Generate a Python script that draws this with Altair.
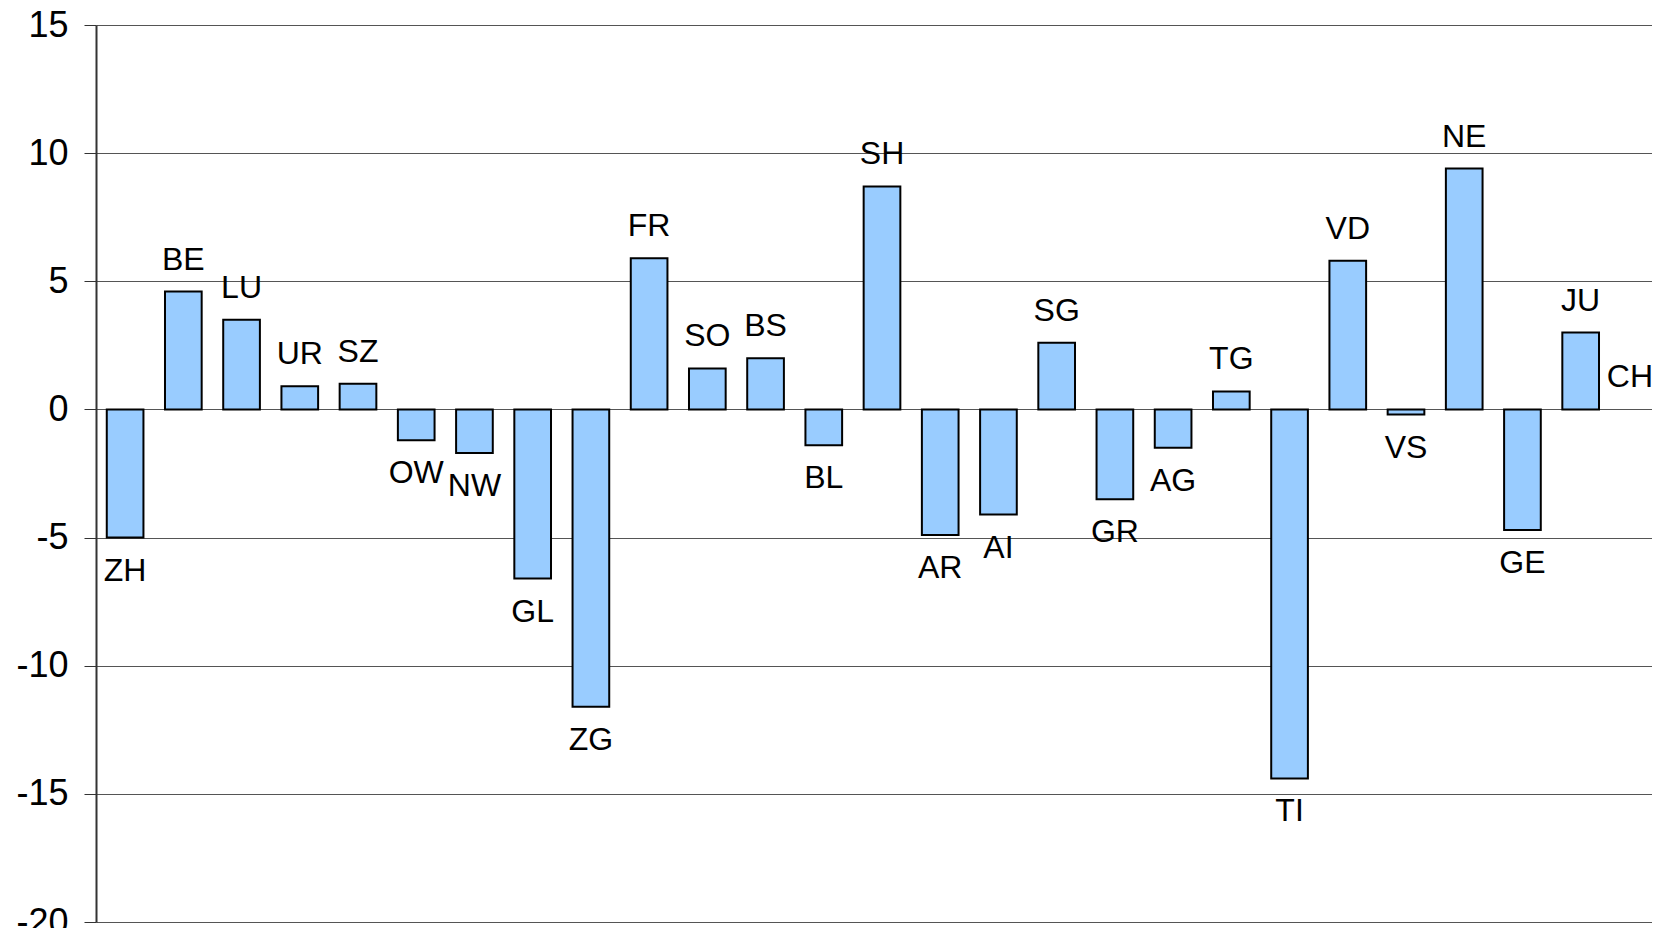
import altair as alt
import pandas as pd

cantons = ["ZH", "BE", "LU", "UR", "SZ", "OW", "NW", "GL", "ZG", "FR", "SO", "BS", "BL", "SH",
           "AR", "AI", "SG", "GR", "AG", "TG", "TI", "VD", "VS", "NE", "GE", "JU", "CH"]
values = [-5.0, 4.6, 3.5, 0.9, 1.0, -1.2, -1.7, -6.6, -11.6, 5.9, 1.6, 2.0, -1.4, 8.7,
          -4.9, -4.1, 2.6, -3.5, -1.5, 0.7, -14.4, 5.8, -0.2, 9.4, -4.7, 3.0, 0.0]
y_ticks = [-20, -15, -10, -5, 0, 5, 10, 15]

df = pd.DataFrame({"canton": cantons, "value": values})

FONT = "Liberation Sans"

x_enc = alt.X("canton:N", sort=None, axis=None,
              scale=alt.Scale(range=[0, 1572], paddingInner=0.37, paddingOuter=0.185))
y_scale = alt.Scale(domain=[-20, 15], nice=False, zero=False)

base = alt.Chart(df)

bars = base.transform_filter("datum.value != 0").mark_bar(
    color="#99CCFF", stroke="black", strokeWidth=2
).encode(
    x=x_enc,
    y=alt.Y("value:Q", scale=y_scale, title=None,
            axis=alt.Axis(values=y_ticks, labelFont=FONT, labelFontSize=36, labelColor="black",
                          labelExpr="toString(datum.value)",
                          labelPadding=16, tickSize=12, tickColor="#333333", domainColor="#333333",
                          domainWidth=2, gridColor="#555555", gridWidth=1.2)),
    y2=alt.datum(0),
)

pos_labels = base.transform_filter("datum.value >= 0 && datum.canton != 'CH'").mark_text(
    font=FONT, fontSize=32, color="black", baseline="alphabetic", align="center", dy=-22
).encode(x=x_enc, y=alt.Y("value:Q", scale=y_scale), text="canton:N")

# last label sits at the right edge; nudge it so it stays fully visible
edge_label = base.transform_filter("datum.canton == 'CH'").mark_text(
    font=FONT, fontSize=32, color="black", baseline="alphabetic", align="center", dy=-22, dx=-9
).encode(x=x_enc, y=alt.Y("value:Q", scale=y_scale), text="canton:N")

neg_labels = base.transform_filter("datum.value < 0").mark_text(
    font=FONT, fontSize=32, color="black", baseline="alphabetic", align="center", dy=43
).encode(x=x_enc, y=alt.Y("value:Q", scale=y_scale), text="canton:N")

chart = alt.layer(bars, pos_labels, edge_label, neg_labels).properties(
    width=1556, height=897,
    autosize=alt.AutoSizeParams(type="none"),
    padding={"left": 88, "top": 17, "right": 0, "bottom": 6},
).configure_view(stroke=None).configure(background="white")

chart.save("out.html", embed_options={"renderer": "svg", "actions": False})
